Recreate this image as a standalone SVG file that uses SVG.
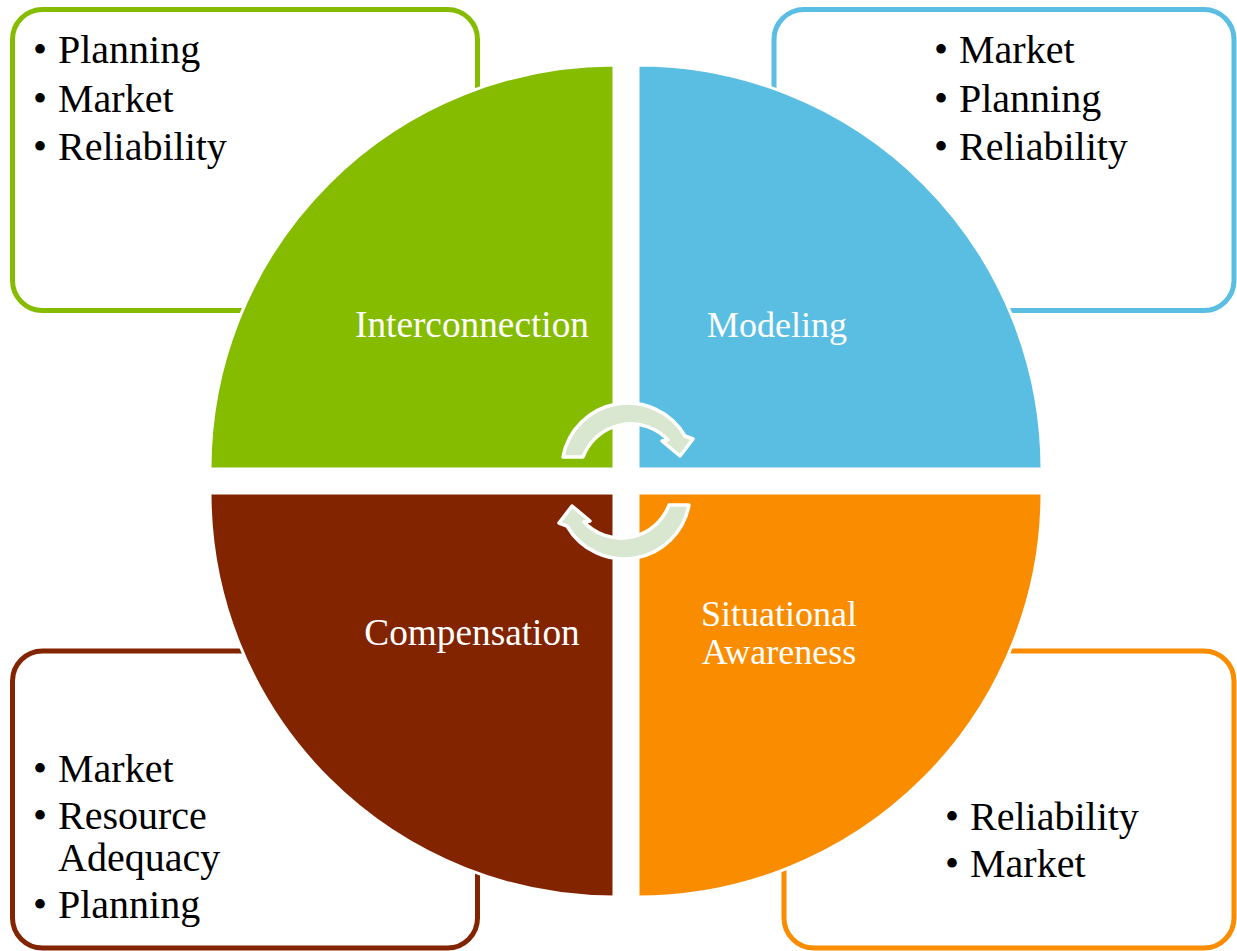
<svg xmlns="http://www.w3.org/2000/svg" width="1237" height="951" viewBox="0 0 1237 951">
  <style>
    .box { fill: #ffffff; stroke-width: 5; }
    .quad { stroke: #ffffff; stroke-width: 3; }
    .item { font-family: "Liberation Serif", "Times New Roman", serif; font-size: 40px; fill: #000000; }
    .label { font-family: "Liberation Serif", "Times New Roman", serif; font-size: 36px; fill: #ffffff; text-anchor: middle; }
    .wide { font-size: 37.3px; }
    .cyc { fill: #D9E6D0; stroke: #ffffff; stroke-width: 3.5; stroke-linejoin: round; }
  </style>
  <defs>
    <path id="cycArrow" d="M 563 457 A 66 66 0 0 1 685 436 L 693 439 L 680 456 L 662 441 L 668 440 A 51 51 0 0 0 583 457 Z"/>
  </defs>
  <rect width="1237" height="951" fill="#ffffff"/>

  <!-- bullet boxes -->
  <g id="box-interconnection">
    <rect class="box" x="12.5" y="9.5" width="465" height="301" rx="30" stroke="#85BC00"/>
    <text class="item" x="33" y="63">•</text><text class="item" x="58" y="63">Planning</text>
    <text class="item" x="33" y="111.5">•</text><text class="item" x="58" y="111.5">Market</text>
    <text class="item" x="33" y="160">•</text><text class="item" x="58" y="160">Reliability</text>
  </g>
  <g id="box-modeling">
    <rect class="box" x="774" y="9.5" width="460" height="301" rx="30" stroke="#5ABEE3"/>
    <text class="item" x="934" y="63">•</text><text class="item" x="959" y="63">Market</text>
    <text class="item" x="934" y="111.5">•</text><text class="item" x="959" y="111.5">Planning</text>
    <text class="item" x="934" y="160">•</text><text class="item" x="959" y="160">Reliability</text>
  </g>
  <g id="box-compensation">
    <rect class="box" x="12.5" y="651" width="465" height="297" rx="30" stroke="#832400"/>
    <text class="item" x="33" y="781.7">•</text><text class="item" x="58" y="781.7">Market</text>
    <text class="item" x="33" y="829.3">•</text><text class="item" x="58" y="829.3">Resource</text>
    <text class="item" x="58" y="870.7">Adequacy</text>
    <text class="item" x="33" y="918.3">•</text><text class="item" x="58" y="918.3">Planning</text>
  </g>
  <g id="box-situational">
    <rect class="box" x="784" y="651" width="450" height="297" rx="30" stroke="#FA8C00"/>
    <text class="item" x="945" y="830">•</text><text class="item" x="970" y="830">Reliability</text>
    <text class="item" x="945" y="877">•</text><text class="item" x="970" y="877">Market</text>
  </g>

  <!-- quadrants -->
  <g id="node-interconnection">
    <path class="quad" fill="#85BC00" d="M 614 469 L 210 469 A 404 404 0 0 1 614 65 Z"/>
    <text class="label wide" x="472" y="337">Interconnection</text>
  </g>
  <g id="node-modeling">
    <path class="quad" fill="#5ABEE3" d="M 638 469 L 638 65 A 404 404 0 0 1 1042 469 Z"/>
    <text class="label" x="777" y="337">Modeling</text>
  </g>
  <g id="node-situational">
    <path class="quad" fill="#FA8C00" d="M 638 493 L 1042 493 A 404 404 0 0 1 638 897 Z"/>
    <text class="label" x="779" y="626">Situational</text>
    <text class="label" x="779" y="664">Awareness</text>
  </g>
  <g id="node-compensation">
    <path class="quad" fill="#832400" d="M 614 493 L 614 897 A 404 404 0 0 1 210 493 Z"/>
    <text class="label wide" x="472" y="645">Compensation</text>
  </g>

  <!-- connectors: cycle arrows -->
  <g id="connectors">
    <use href="#cycArrow" class="cyc"/>
    <use href="#cycArrow" class="cyc" transform="rotate(180 626 481)"/>
  </g>
</svg>
